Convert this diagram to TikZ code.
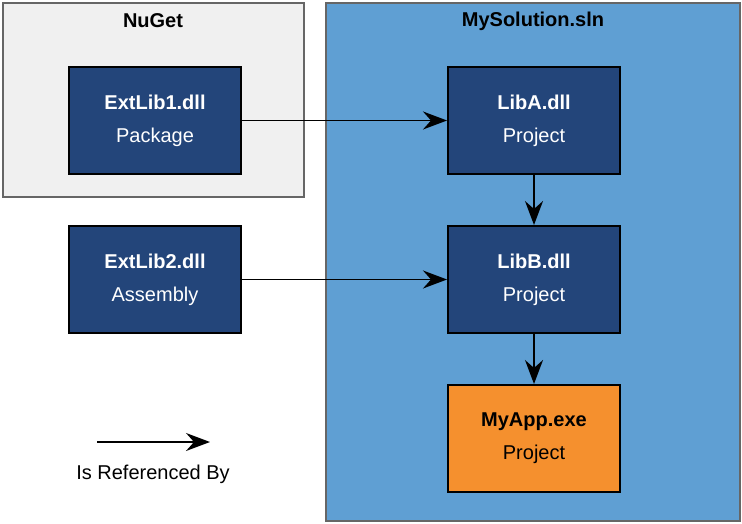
\documentclass[tikz,border=0pt]{standalone}
\usepackage{fontspec}
\setmainfont{Liberation Sans}
\usetikzlibrary{arrows.meta}
\definecolor{nubg}{HTML}{F0F0F0}
\definecolor{solbg}{HTML}{5F9FD3}
\definecolor{dblue}{HTML}{23457A}
\definecolor{orng}{HTML}{F5902E}
\begin{document}
\begin{tikzpicture}[x=1pt,y=-1pt,
  box/.style={draw=black,line width=2pt,minimum width=172pt,minimum height=107pt,anchor=north west,align=center,font=\fontsize{20}{33}\selectfont,text=white,fill=dblue},
  grp/.style={draw=gray!80!black,line width=1.5pt},
  arr/.style={-{Stealth[length=24pt,width=18pt,inset=8pt]},line width=1.8pt},
  ttl/.style={font=\bfseries\fontsize{20}{24}\selectfont}]
\useasboundingbox (0,0) rectangle (742,524);
\fill[white] (0,0) rectangle (742,524);
\draw[grp,fill=nubg] (3,3) rectangle (304,197);
\draw[grp,fill=solbg] (326,3) rectangle (740,521);
\node[ttl] (tn) at (153,21) {NuGet};
\node[ttl] (ts) at (533,21) {MySolution.sln};
\node[box] (e1) at (68,66) {\textbf{ExtLib1.dll}\\Package};
\node[box] (la) at (447,66) {\textbf{LibA.dll}\\Project};
\node[box] (e2) at (68,225) {\textbf{ExtLib2.dll}\\Assembly};
\node[box] (lb) at (447,225) {\textbf{LibB.dll}\\Project};
\node[box,fill=orng,text=black] (ma) at (447,384) {\textbf{MyApp.exe}\\Project};
\draw[arr] (e1) -- (la);
\draw[arr] (e2) -- (lb);
\draw[arr] (la) -- (lb);
\draw[arr] (lb) -- (ma);
\coordinate (l1) at (97,442);
\coordinate (l2) at (210,442);
\draw[arr] (l1) -- (l2);
\node[font=\fontsize{20}{24}\selectfont] (lt) at (153,474) {Is Referenced By};
\end{tikzpicture}
\end{document}
